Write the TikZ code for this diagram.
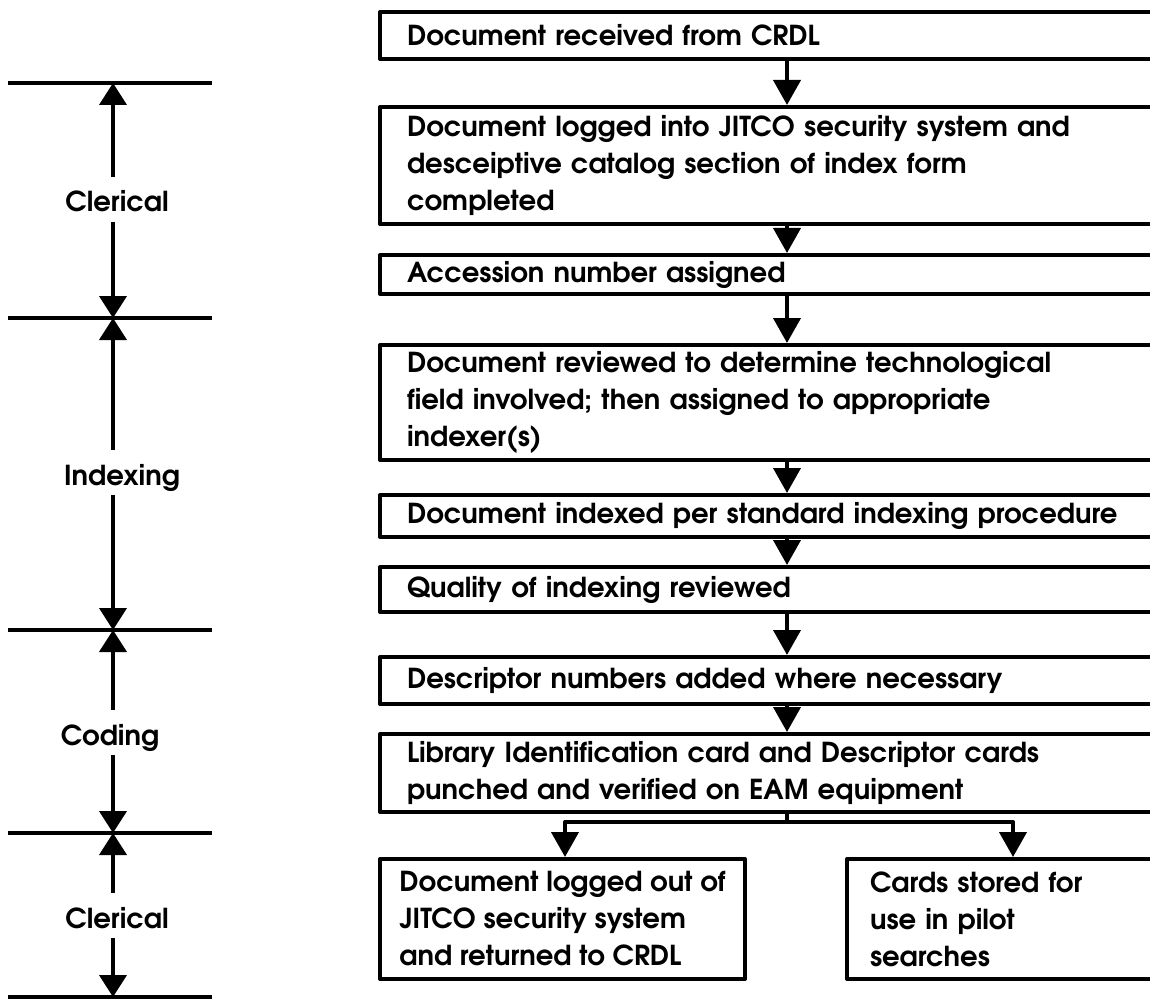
\documentclass[tikz,border=0pt]{standalone}
\usepackage{fontspec}
\setmainfont{texgyreadventor}[Extension=.otf,UprightFont=*-regular,BoldFont=*-bold]
\usetikzlibrary{positioning,arrows.meta}

\begin{document}
\begin{tikzpicture}[x=1pt,y=-1pt,line width=4pt,line join=round,
	>={Triangle[width=27pt,length=25pt]},
	box/.style={draw,rectangle,anchor=north west,inner xsep=27pt,inner ysep=0pt,
		align=left,text width=790pt,font=\fontsize{27.5}{37}\selectfont\bfseries},
	phase/.style={anchor=base,inner sep=0pt,font=\fontsize{27.5}{30}\selectfont\bfseries},
	phasetip/.style={-{Triangle[width=27pt,length=22pt]}}]

\useasboundingbox (0,0) rectangle (1150,1000);
\clip (0,0) rectangle (1150,1000);

% Kaesten
\node[box,minimum height=47pt] (b1) at (378,10) {Document received from CRDL};
\node[box,minimum height=117pt] (b2) at (378,105) {Document logged into JITCO security system and\\desceiptive catalog section of index form\\completed};
\node[box,minimum height=39pt] (b3) at (378,253) {Accession number assigned};
\node[box,minimum height=115pt] (b4) at (378,343) {Document reviewed to determine technological\\field involved; then assigned to appropriate\\indexer(s)};
\node[box,minimum height=42pt] (b5) at (378,493) {Document indexed per standard indexing procedure};
\node[box,minimum height=45pt] (b6) at (378,565) {Quality of indexing reviewed};
\node[box,minimum height=47pt] (b7) at (378,655) {Descriptor numbers added where necessary};
\node[box,minimum height=78pt] (b8) at (378,732) {Library Identification card and Descriptor cards\\punched and verified on EAM equipment};
\node[box,text width={},inner xsep=2pt,minimum width=365pt,minimum height=120pt] (b9) at (378,857) {Document logged out of\\JITCO security system\\and returned to CRDL};
\node[box,inner xsep=23pt,minimum height=120pt] (b10) at (845,857) {Cards stored for\\use in pilot\\searches};

% Pfeile
\coordinate (spine) at (787,0);
\foreach \a/\b in {b1/b2,b2/b3,b3/b4,b4/b5,b5/b6,b6/b7,b7/b8}
	\draw[->] (\a.south -| spine) -- (\b.north -| spine);

% Verzweigung
\coordinate (fork) at (787,822);
\coordinate (fl) at (565,822);
\coordinate (fr) at (1013,822);
\draw[->] (b8.south -| fork) -- (fork) -- (fl) -- (fl |- b9.north);
\draw[->] (fork) -- (fr) -- (fr |- b10.north);

% Phasen links
\foreach \y [count=\i] in {83,318,630,833,997}{
	\coordinate (s\i) at (113,\y);
	\draw[line width=3.5pt] (s\i) ++(-105,0) -- ++(204,0);
}
\node[phase] (p1) at (117,212) {Clerical};
\node[phase] (p2) at (122,485) {Indexing};
\node[phase] (p3) at (110,745) {Coding};
\node[phase] (p4) at (117,928) {Clerical};

\foreach \p/\u/\d in {p1/s1/s2,p2/s2/s3,p3/s3/s4,p4/s4/s5}{
	\draw[phasetip] ([yshift=35pt]\p.base -| \u) -- (\u);
	\draw[phasetip] ([yshift=-10pt]\p.base -| \d) -- (\d);
}
\end{tikzpicture}
\end{document}
